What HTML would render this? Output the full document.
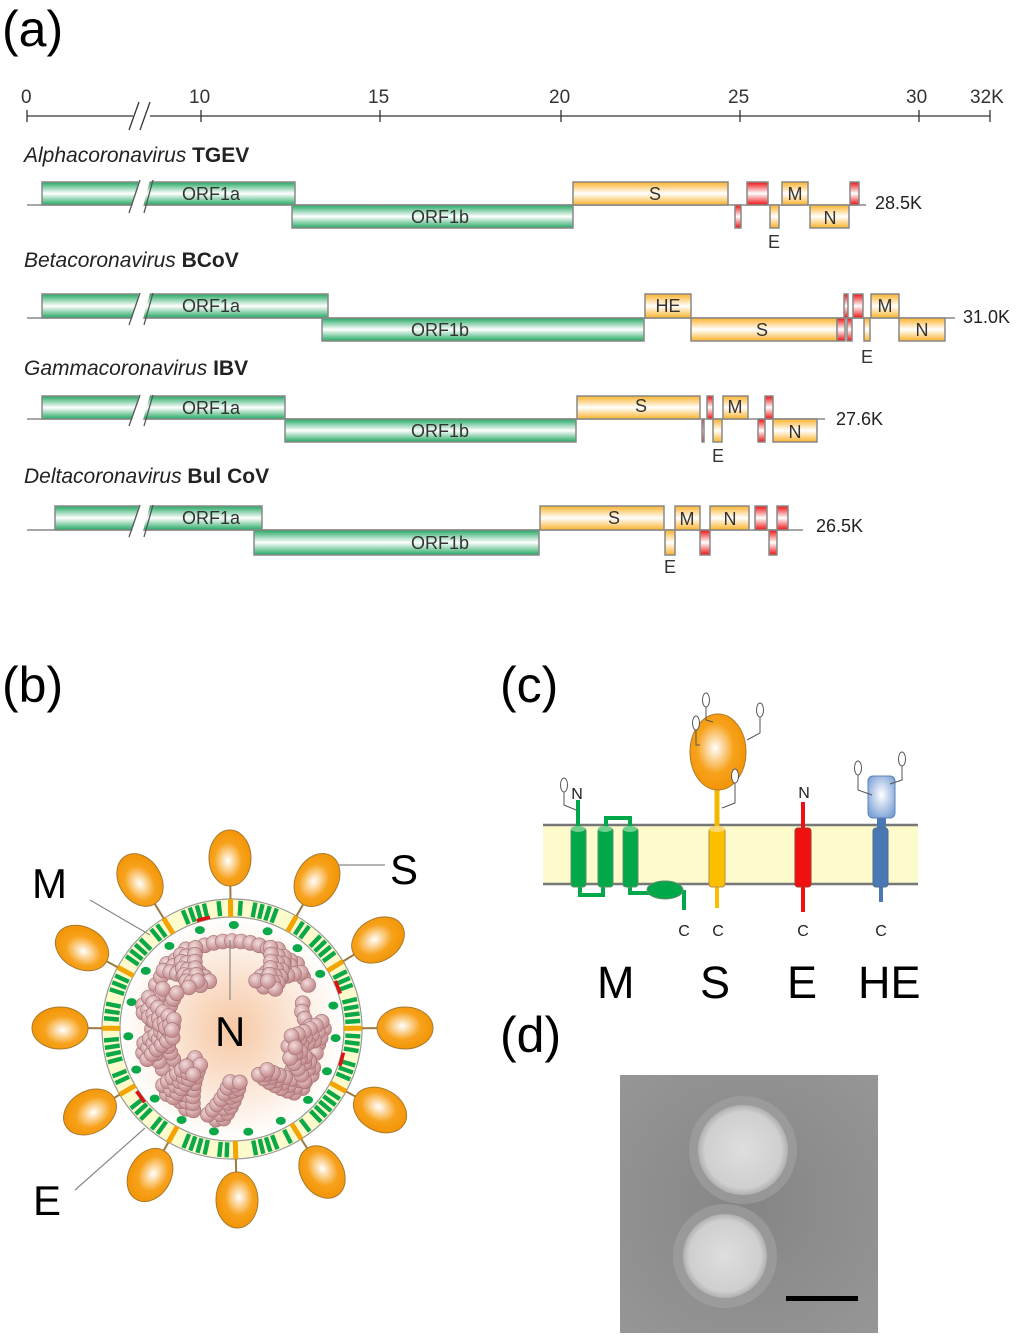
<!DOCTYPE html>
<html><head><meta charset="utf-8"><style>
html,body{margin:0;padding:0;background:#fff;}
svg{display:block;}
.t{font-family:"Liberation Sans",sans-serif;}
</style></head><body>
<svg id="s" width="1024" height="1344" viewBox="0 0 1024 1344" xmlns="http://www.w3.org/2000/svg" class="t">
<defs>
<linearGradient id="gg" x1="0" y1="0" x2="0" y2="1"><stop offset="0" stop-color="#22a862"/><stop offset=".5" stop-color="#ffffff"/><stop offset="1" stop-color="#22a862"/></linearGradient>
<linearGradient id="go" x1="0" y1="0" x2="0" y2="1"><stop offset="0" stop-color="#fbb22a"/><stop offset=".5" stop-color="#ffffff"/><stop offset="1" stop-color="#fbb22a"/></linearGradient>
<linearGradient id="gr" x1="0" y1="0" x2="0" y2="1"><stop offset="0" stop-color="#ee1010"/><stop offset=".5" stop-color="#ffffff"/><stop offset="1" stop-color="#ee1010"/></linearGradient>
<radialGradient id="rs" cx=".45" cy=".45" r=".6"><stop offset="0" stop-color="#ffffff"/><stop offset=".55" stop-color="#f7a21c"/><stop offset="1" stop-color="#f29200"/></radialGradient>
<radialGradient id="rb" cx=".5" cy=".45" r=".6"><stop offset="0" stop-color="#ffffff"/><stop offset="1" stop-color="#7fa3d6"/></radialGradient>
<radialGradient id="rn" cx=".5" cy=".5" r=".5"><stop offset="0" stop-color="#f6c7a4"/><stop offset="1" stop-color="#ffffff"/></radialGradient>
<radialGradient id="rp" cx=".4" cy=".35" r=".6"><stop offset="0" stop-color="#f2dcdc"/><stop offset="1" stop-color="#c48c8e"/></radialGradient>
<radialGradient id="em" cx=".5" cy=".5" r=".7"><stop offset="0" stop-color="#858585"/><stop offset="1" stop-color="#969696"/></radialGradient>
<radialGradient id="vir" cx=".5" cy=".5" r=".5"><stop offset="0" stop-color="#dedede"/><stop offset=".85" stop-color="#cfcfcf"/><stop offset="1" stop-color="#b0b0b0"/></radialGradient>
</defs>

<text x="2" y="46" font-size="50">(a)</text>

<g stroke="#333" stroke-width="1.3" fill="none">
<line x1="27" y1="116" x2="133" y2="116"/><line x1="150" y1="116" x2="990" y2="116"/>
<line x1="27" y1="110" x2="27" y2="122"/><line x1="201" y1="110" x2="201" y2="122"/><line x1="380" y1="110" x2="380" y2="122"/><line x1="561" y1="110" x2="561" y2="122"/><line x1="740" y1="110" x2="740" y2="122"/><line x1="919" y1="110" x2="919" y2="122"/><line x1="990" y1="110" x2="990" y2="122"/>
<line x1="129" y1="130" x2="139" y2="102"/><line x1="140" y1="130" x2="150" y2="102"/>
</g>
<g font-size="19" fill="#333">
<text x="21" y="103">0</text><text x="189" y="103">10</text><text x="368" y="103">15</text><text x="549" y="103">20</text><text x="728" y="103">25</text><text x="906" y="103">30</text><text x="970" y="103">32K</text>
</g>

<g font-size="21" fill="#222">
<text x="24" y="162"><tspan font-style="italic">Alphacoronavirus</tspan><tspan font-weight="bold"> TGEV</tspan></text>
<text x="24" y="267"><tspan font-style="italic">Betacoronavirus</tspan><tspan font-weight="bold"> BCoV</tspan></text>
<text x="24" y="375"><tspan font-style="italic">Gammacoronavirus</tspan><tspan font-weight="bold"> IBV</tspan></text>
<text x="24" y="483"><tspan font-style="italic">Deltacoronavirus</tspan><tspan font-weight="bold"> Bul CoV</tspan></text>
</g>

<g stroke="#888" stroke-width="1.5">
<line x1="27" y1="205" x2="866" y2="205"/>
<rect x="42" y="182" width="253" height="23" fill="url(#gg)"/>
<rect x="292" y="205" width="281" height="23" fill="url(#gg)"/>
<rect x="573" y="182" width="155" height="23" fill="url(#go)"/>
<rect x="735" y="205" width="6" height="23" fill="url(#gr)"/>
<rect x="747" y="182" width="21" height="23" fill="url(#gr)"/>
<rect x="770" y="205" width="9" height="23" fill="url(#go)"/>
<rect x="782" y="182" width="26" height="23" fill="url(#go)"/>
<rect x="810" y="205" width="39" height="23" fill="url(#go)"/>
<rect x="850" y="182" width="9" height="23" fill="url(#gr)"/>
<line x1="27" y1="318" x2="955" y2="318"/>
<rect x="42" y="294" width="286" height="24" fill="url(#gg)"/>
<rect x="322" y="318" width="322" height="23" fill="url(#gg)"/>
<rect x="645" y="294" width="46" height="24" fill="url(#go)"/>
<rect x="691" y="318" width="146" height="23" fill="url(#go)"/>
<rect x="837" y="318" width="8" height="23" fill="url(#gr)"/>
<rect x="847" y="318" width="5" height="23" fill="url(#gr)"/>
<rect x="844" y="294" width="4" height="24" fill="url(#gr)"/>
<rect x="853" y="294" width="10" height="24" fill="url(#gr)"/>
<rect x="864" y="318" width="6" height="23" fill="url(#go)"/>
<rect x="871" y="294" width="28" height="24" fill="url(#go)"/>
<rect x="899" y="318" width="46" height="23" fill="url(#go)"/>
<line x1="27" y1="419" x2="825" y2="419"/>
<rect x="42" y="396" width="243" height="23" fill="url(#gg)"/>
<rect x="285" y="419" width="291" height="23" fill="url(#gg)"/>
<rect x="577" y="396" width="123" height="23" fill="url(#go)"/>
<rect x="702" y="419" width="2" height="23" fill="url(#gr)"/>
<rect x="707" y="396" width="6" height="23" fill="url(#gr)"/>
<rect x="713" y="419" width="9" height="23" fill="url(#go)"/>
<rect x="723" y="396" width="25" height="23" fill="url(#go)"/>
<rect x="758" y="419" width="7" height="23" fill="url(#gr)"/>
<rect x="765" y="396" width="8" height="23" fill="url(#gr)"/>
<rect x="773" y="419" width="44" height="23" fill="url(#go)"/>
<line x1="27" y1="530" x2="803" y2="530"/>
<rect x="55" y="506" width="207" height="24" fill="url(#gg)"/>
<rect x="254" y="530" width="285" height="25" fill="url(#gg)"/>
<rect x="540" y="506" width="124" height="24" fill="url(#go)"/>
<rect x="665" y="530" width="10" height="25" fill="url(#go)"/>
<rect x="675" y="506" width="25" height="24" fill="url(#go)"/>
<rect x="700" y="530" width="10" height="25" fill="url(#gr)"/>
<rect x="710" y="506" width="39" height="24" fill="url(#go)"/>
<rect x="755" y="506" width="12" height="24" fill="url(#gr)"/>
<rect x="769" y="530" width="8" height="25" fill="url(#gr)"/>
<rect x="777" y="506" width="11" height="24" fill="url(#gr)"/>
</g>
<g fill="#fff" stroke="none">
<polygon points="132,207 139,180 150,180 143,207"/>
<polygon points="132,319 139,293 150,293 143,319"/>
<polygon points="132,420 139,395 150,395 143,420"/>
<polygon points="132,531 139,505 150,505 143,531"/>
</g>
<g stroke="#555" stroke-width="1.3">
<line x1="129" y1="213" x2="140" y2="180"/><line x1="144" y1="213" x2="153" y2="180"/>
<line x1="129" y1="325" x2="140" y2="293"/><line x1="144" y1="325" x2="153" y2="293"/>
<line x1="129" y1="426" x2="140" y2="395"/><line x1="144" y1="426" x2="153" y2="395"/>
<line x1="129" y1="537" x2="140" y2="505"/><line x1="144" y1="537" x2="153" y2="505"/>
</g>
<g font-size="18" fill="#333" text-anchor="middle">
<text x="211" y="200">ORF1a</text><text x="440" y="223">ORF1b</text><text x="655" y="200">S</text><text x="795" y="200">M</text><text x="830" y="224">N</text><text x="774" y="248">E</text>
<text x="211" y="312">ORF1a</text><text x="440" y="336">ORF1b</text><text x="668" y="312">HE</text><text x="762" y="336">S</text><text x="885" y="312">M</text><text x="922" y="336">N</text><text x="867" y="363">E</text>
<text x="211" y="414">ORF1a</text><text x="440" y="437">ORF1b</text><text x="641" y="412">S</text><text x="735" y="413">M</text><text x="795" y="438">N</text><text x="718" y="462">E</text>
<text x="211" y="524">ORF1a</text><text x="440" y="549">ORF1b</text><text x="614" y="524">S</text><text x="687" y="525">M</text><text x="730" y="525">N</text><text x="670" y="573">E</text>
</g>
<g font-size="18" fill="#222">
<text x="875" y="209">28.5K</text><text x="963" y="323">31.0K</text><text x="836" y="425">27.6K</text><text x="816" y="532">26.5K</text>
</g>

<text x="2" y="702" font-size="50">(b)</text>
<g id="virion"></g>
<g stroke="#888" stroke-width="1.2">
<line x1="90" y1="900" x2="150" y2="935"/>
<line x1="338" y1="865" x2="385" y2="865"/>
<line x1="230" y1="940" x2="230" y2="1000"/>
<line x1="75" y1="1190" x2="145" y2="1128"/>
</g>
<g font-size="42" fill="#000">
<text x="32" y="898">M</text><text x="390" y="884">S</text><text x="215" y="1046">N</text><text x="33" y="1215">E</text>
</g>

<text x="500" y="702" font-size="50">(c)</text>
<rect x="543" y="825" width="375" height="59" fill="#fdfbcc"/>
<line x1="543" y1="825" x2="918" y2="825" stroke="#777" stroke-width="2.5"/>
<line x1="543" y1="884" x2="918" y2="884" stroke="#777" stroke-width="2.5"/>
<g stroke="#00a84a" stroke-width="4" fill="none">
<line x1="578" y1="800" x2="578" y2="828"/>
<path d="M606 828 V818 H630 V828"/>
<path d="M580 887 V895 H603 V887"/>
<path d="M630 887 V893 H650"/>
<line x1="684" y1="890" x2="684" y2="910"/>
</g>
<g fill="#00a84a" stroke="#5a8f6a" stroke-width="1">
<rect x="571" y="828" width="15" height="59" rx="3"/><rect x="598" y="828" width="15" height="59" rx="3"/><rect x="623" y="828" width="15" height="59" rx="3"/>
<ellipse cx="665" cy="890" rx="18" ry="9"/>
</g>
<g fill="#6fcf8d"><ellipse cx="578" cy="829" rx="7" ry="3"/><ellipse cx="605" cy="829" rx="7" ry="3"/><ellipse cx="630" cy="829" rx="7" ry="3"/></g>
<line x1="717" y1="785" x2="717" y2="830" stroke="#f3b800" stroke-width="5"/>
<line x1="717" y1="885" x2="717" y2="908" stroke="#fbbf00" stroke-width="4"/>
<rect x="709" y="828" width="16" height="59" rx="3" fill="#fbbf00" stroke="#b89040"/>
<ellipse cx="717" cy="829" rx="8" ry="3" fill="#fcd870"/>
<ellipse cx="718" cy="752" rx="28" ry="38" fill="url(#rs)" stroke="#b07a2a"/>
<line x1="803" y1="802" x2="803" y2="912" stroke="#f01010" stroke-width="4"/>
<rect x="795" y="828" width="16" height="59" rx="3" fill="#f01010" stroke="#b03030"/>
<line x1="881" y1="812" x2="881" y2="902" stroke="#4a78b4" stroke-width="4"/>
<rect x="877" y="815" width="9" height="14" fill="#4a78b4"/>
<rect x="873" y="828" width="15" height="59" rx="3" fill="#4a78b4" stroke="#506a90"/>
<rect x="868" y="776" width="27" height="42" rx="5" fill="url(#rb)" stroke="#5b80b8"/>
<g stroke="#555" stroke-width="1" fill="#fff">
<path d="M564 792 V805 L576 810" fill="none"/><ellipse cx="564" cy="785" rx="3.5" ry="7"/>
<path d="M696 730 V745 L700 745" fill="none"/><ellipse cx="696" cy="723" rx="3.5" ry="7"/>
<path d="M706 707 V720 L713 722" fill="none"/><ellipse cx="706" cy="700" rx="3.5" ry="7"/>
<path d="M760 717 V733 L747 740" fill="none"/><ellipse cx="760" cy="710" rx="3.5" ry="7"/>
<path d="M735 782 V803 L722 808" fill="none"/><ellipse cx="735" cy="776" rx="3.5" ry="7"/>
<path d="M858 775 V790 L872 795" fill="none"/><ellipse cx="858" cy="768" rx="3.5" ry="7"/>
<path d="M902 766 V780 L890 784" fill="none"/><ellipse cx="902" cy="759" rx="3.5" ry="7"/>
</g>
<g font-size="16" fill="#222" text-anchor="middle">
<text x="577" y="799">N</text><text x="804" y="798">N</text>
<text x="684" y="936">C</text><text x="718" y="936">C</text><text x="803" y="936">C</text><text x="881" y="936">C</text>
</g>
<g font-size="45" fill="#000">
<text x="597" y="998">M</text><text x="700" y="998">S</text><text x="787" y="998">E</text><text x="858" y="998">HE</text>
</g>

<text x="500" y="1052" font-size="50">(d)</text>
<rect x="620" y="1075" width="258" height="258" fill="url(#em)"/>
<circle cx="743" cy="1150" r="54" fill="#a8a8a8" opacity=".5"/>
<circle cx="725" cy="1256" r="52" fill="#a8a8a8" opacity=".5"/>
<circle cx="743" cy="1150" r="45" fill="url(#vir)"/>
<circle cx="725" cy="1256" r="42" fill="url(#vir)"/>
<rect x="786" y="1296" width="72" height="5" fill="#000"/>
</svg>
<script>
(function(){
var g=document.getElementById('virion'),h='';
var cx=232,cy=1029;
h+='<circle cx="'+cx+'" cy="'+cy+'" r="112" fill="url(#rn)"/>';
h+='<circle cx="'+cx+'" cy="'+cy+'" r="121" fill="none" stroke="#fdfbcc" stroke-width="18"/>';
h+='<circle cx="'+cx+'" cy="'+cy+'" r="130" fill="none" stroke="#999" stroke-width="1.2"/>';
h+='<circle cx="'+cx+'" cy="'+cy+'" r="112" fill="none" stroke="#999" stroke-width="1.2"/>';
var sp=[[230,858],[317,880],[378,940],[405,1028],[380,1110],[322,1172],[237,1200],[150,1175],[90,1112],[60,1028],[82,948],[140,880]];
var spAng=sp.map(function(p){return Math.atan2(p[1]-cy,p[0]-cx);});
for(var a=0;a<360;a+=3.3){
  var r=a*Math.PI/180,skip=false;
  spAng.forEach(function(s){var d=Math.abs(Math.atan2(Math.sin(r-s),Math.cos(r-s)));if(d<0.05)skip=true;});
  if(Math.floor(a/3.3)%5==4)skip=true;
  if(skip)continue;
  var x=cx+121*Math.cos(r),y=cy+121*Math.sin(r);
  h+='<rect x="'+(x-2.2)+'" y="'+(y-7.5)+'" width="4.4" height="15" fill="#0aa848" transform="rotate('+(a+90)+' '+x+' '+y+')"/>';
}
[[-108],[-25],[12],[140]].forEach(function(d){var r=d[0]*Math.PI/180;var x1=cx+114*Math.cos(r),y1=cy+114*Math.sin(r),x2=cx+114*Math.cos(r+0.12),y2=cy+114*Math.sin(r+0.12);h+='<line x1="'+x1+'" y1="'+y1+'" x2="'+x2+'" y2="'+y2+'" stroke="#e01010" stroke-width="3.5"/>';});
for(var a=5;a<360;a+=19){var r=a*Math.PI/180;h+='<ellipse cx="'+(cx+104*Math.cos(r))+'" cy="'+(cy+104*Math.sin(r))+'" rx="5" ry="4" fill="#0aa848"/>';}
sp.forEach(function(p,i){var s=spAng[i];var x0=cx+130*Math.cos(s),y0=cy+130*Math.sin(s),x1=cx+148*Math.cos(s),y1=cy+148*Math.sin(s);
 var ix=cx+112*Math.cos(s),iy=cy+112*Math.sin(s);
 h+='<line x1="'+ix+'" y1="'+iy+'" x2="'+x0+'" y2="'+y0+'" stroke="#f3a400" stroke-width="5"/>';
 h+='<line x1="'+x0+'" y1="'+y0+'" x2="'+x1+'" y2="'+y1+'" stroke="#9a7a40" stroke-width="2"/>';
 h+='<ellipse cx="'+p[0]+'" cy="'+p[1]+'" rx="28" ry="21" fill="url(#rs)" stroke="#a87a30" transform="rotate('+(s*180/Math.PI)+' '+p[0]+' '+p[1]+')"/>';});
var pts=[];
for(var a=-150;a<=-30;a+=6){var r=a*Math.PI/180;pts.push([cx+88*Math.cos(r),cy+88*Math.sin(r)]);}
function arm(a0,len,bend){var r=a0*Math.PI/180;for(var k=0;k<len;k++){var rr=92-k*6;var aa=r+bend*k*0.04;pts.push([cx+rr*Math.cos(aa),cy+rr*Math.sin(aa)]);pts.push([cx+(rr-3)*Math.cos(aa+0.1),cy+(rr-3)*Math.sin(aa+0.1)]);pts.push([cx+(rr-2)*Math.cos(aa-0.08),cy+(rr-2)*Math.sin(aa-0.08)]);}}
arm(-135,7,1);arm(-120,6,-1);arm(-45,7,-1);arm(-60,6,1);
for(var a=-20;a<=45;a+=6){var r=a*Math.PI/180;var rr=80+8*Math.sin(a/8);pts.push([cx+rr*Math.cos(r),cy+rr*Math.sin(r)]);}
arm(0,6,1);arm(40,7,1);arm(30,5,-1);
for(var a=150;a<=215;a+=6){var r=a*Math.PI/180;pts.push([cx+80*Math.cos(r),cy+80*Math.sin(r)]);pts.push([cx+66*Math.cos(r+0.05),cy+66*Math.sin(r+0.05)]);}
arm(165,6,1);arm(195,6,-1);arm(120,8,1);arm(100,7,-1);arm(135,6,0);
pts.forEach(function(p){h+='<circle cx="'+p[0].toFixed(1)+'" cy="'+p[1].toFixed(1)+'" r="7.5" fill="url(#rp)" stroke="#a07072" stroke-width=".6"/>';});
g.innerHTML=h;
})();
</script>
</body></html>
